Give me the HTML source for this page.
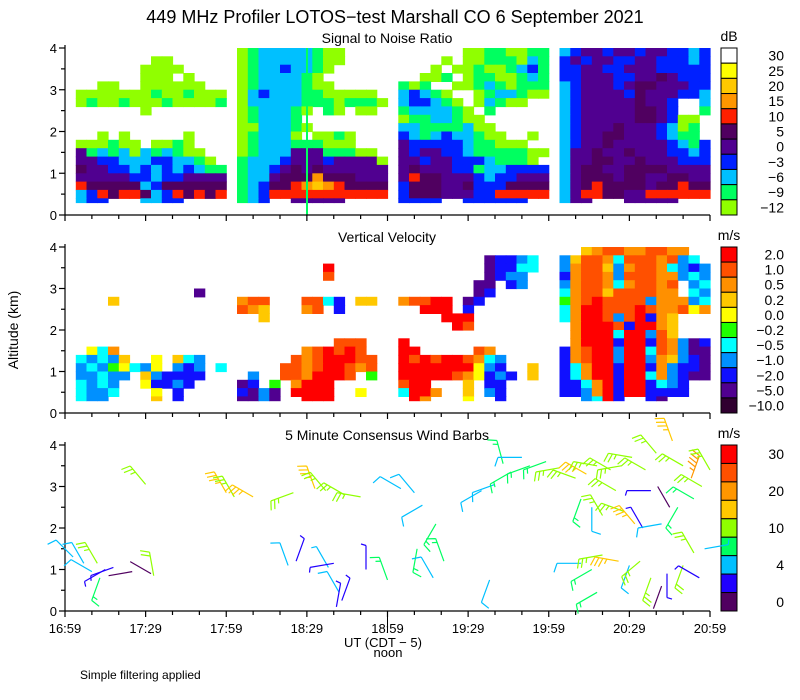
<!DOCTYPE html>
<html><head><meta charset="utf-8"><style>
body{margin:0;background:#fff;}
svg{display:block;font-family:"Liberation Sans",sans-serif;}
</style></head><body>
<svg id="chart" width="800" height="700" viewBox="0 0 800 700">
<text x="395" y="23" font-size="18" text-anchor="middle">449 MHz Profiler LOTOS−test Marshall CO  6 September 2021</text>
<text x="387" y="43" font-size="14" text-anchor="middle">Signal to Noise Ratio</text>
<text x="387" y="242" font-size="14" text-anchor="middle">Vertical Velocity</text>
<text x="387" y="440" font-size="14" text-anchor="middle">5 Minute Consensus Wind Barbs</text>
<text x="0" y="0" font-size="14" text-anchor="middle" transform="translate(18,330) rotate(-90)">Altitude (km)</text>
<text x="383" y="647" font-size="13" text-anchor="middle">UT  (CDT − 5)</text>
<text x="388" y="657" font-size="13" text-anchor="middle">noon</text>
<text x="80" y="679" font-size="12">Simple filtering applied</text>
<g id="layers"></g>
</svg>
<script>
// ---- data ----
const snrSeg1 = ["..............",".......aa.....","......aaaa....","......aaa.a...","..aa..aaaaaa..","aaaaaaabaabaaa","abaabaaabaaaab","......a.......","..............","..............","..a.a.....a...","aaabaa.aaba...","ebcbcacbcbaa..","eeddcccddccba.","feeddcdcdcdcbb","eeeeeddcddeeee","gfffffcdffffff","cdgfggfcdgfgfg","cdd...ccdd....",".............."];
const snrSeg2 = ["abcccccbaa....","abcccccbaa....","abccdccba.....","abccccba......","abccccbaa.....","acdcccbbaaaaa.","acccccbbbabbba","abcccba.ba.aa.","abcccb........","aacccba.......","abccca.aaba...","abcccbbbaaa...","abccceeebbbaa.","bcccdeeedeeeea","bccdefefeeeeee","bccefffhfffeee","bcdffghihgffff","bcdggggggggggg","bcd..eeeee....",".............."];
const snrSeg3 = ["......aabbaabb","....a.aabbbacb","...a.aabaabcdb","..aab.abbaabcb","bab..aabcbabbb","cdcba..abccbaa","cddcba.acbaa..","bccccba.b.....","abbccbaa......","ccbbbbcaa.....","dcbcdccbaa..a.","edddddcbbaaa..","edeeddcbbbbbaa","eedeedddcbbba.","efeeeddbccdddd","egffeeedcddeee","dfffeefdddffff","dfffeeeddggggg","dddd..dddddd..",".............."];
const snrSeg4 = ["cdeedeedeeddcd","dedeeddeedddcd","ddeeddeeeddddd","ddeeeddeefeddd","cdeeedeffeeedd","cdeeeedfeeeddc","cdeeeeefeed..c","cdeeeeeffed..b","cdeeeeeffedaa.","cdeeefeeedcab.","cdeeffeeedcbb.","cdeefeeeeedcbd","ceefeefeeeddcd","ceeffeefeeeddd","ceffeeffffeeee","cefffeffeeffee","cefgffffeffgff","ceggffeegggggg","cee...eeeee...",".............."];
const vvSeg1 = ["..............","..............","..............","..............","..............","...........J..","...D..........","..............","..............","..............","..............","..............",".EGC..........","GHGHD..E.DGH..","HGHFEGHE.HIH.G","HHGHH.DHIIII..","GHGH..EIIHI...","GHHG...E.I....","GHH....D.I....",".............."];
const vvSeg2 = ["..............","..............","........A.....","........B.....","..............","..............","CBB...BBGI.DD.","BCD...CB.I....","..D...........","..............","..............",".........BBB..","......CBABAB..",".....BCBAAABB.","....BBCBAABCB.",".H..BBCAAAB.F.","JI.F.CAAA.....","IJHJ.AAAA..E..","JJHJ..AAA.....",".............."];
const vvSeg3 = ["..............","........JIIHG.","........JIIGG.","........JIHH..",".......JJ.IH..",".......JI.....","CBBAA.JI......","..AAA.I.......","....AAA.......",".....AB.......","..............","A.............","AA.....BC.....","ABABAABCGH....","AAAAAAAEHI..D.","AAAAABCEIHI.D.","BAA...D.II....","GAAC..D.HI....",".AC...E..I....",".............."];
const vvSeg4 = ["..DCBBCCBBCC..","HDBBCGBBBCBHG.","HCBBDHCBBCGHIH","ICBBCHBBBCCHGH","HCBBCGCBBCB.HG","GCBBDBBBBCC.GH","FCBABBBBHCCCHG","GCAABBBABCCBEC","GCAABHBAICD...",".CAAABIAACD...",".CAAAGAAHBD...",".CAAAIAAIBCHJI","ICBAAHAAGBCHJJ","ICBAAHAAHCDHIJ","IGCAAIAAICHIIJ","IGCAAIAAGCHIJJ","IIGCAIAAIGHI..","IIHCAIAAIIII..","..HGAI..IJ....",".............."];
const snrLabels = ["30","25","20","15","10","5","0","−3","−6","−9","−12"];
const vvLabels = ["2.0","1.0","0.5","0.2","0.0","−0.2","−0.5","−1.0","−2.0","−5.0","−10.0"];
const windLabels = ["30","","20","","10","","4","","0"];
const timeLabels = ["16:59","17:29","17:59","18:29","18:59","19:29","19:59","20:29","20:59"];
const altTicks = [0,1,2,3,4];
// wind barbs: minutes after 16:59
const barbTime = [3,7,10,13,15,18,12,25,33,32,30,60,63,70,85,93,97,104,110,83,86,98,100,102,103,101,112,120,125,130,133,138,131,137,141,158,155,160,163,166,170,173,179,184,190,194,198,203,207,211,216,220,226,230,233,237,240,192,196,200,205,208,212,215,218,222,225,228,234,192,196,200,206,210,214,218,222,224,230,234,238,236,198];
const barbAlt = [1.3,1.15,0.95,0.8,1.0,1.05,1.15,0.95,0.85,0.9,3.05,2.85,2.75,2.75,2.85,2.95,2.9,2.8,2.75,1.1,1.2,1.05,1.15,0.45,0.25,0.1,1.0,0.75,2.95,2.85,2.55,2.1,1.5,0.8,1.2,0.75,2.9,3.05,3.55,3.35,3.7,3.5,3.6,3.45,3.2,3.3,3.5,3.4,3.5,3.7,3.4,3.8,4.1,3.5,3.2,3.0,3.4,2.7,2.5,2.3,2.9,2.4,2.1,2.0,2.9,2.1,2.5,2.5,2.7,1.15,1.0,1.35,1.2,1.1,1.2,0.8,0.6,0.9,1.1,1.4,1.5,0.8,0.45];
const barbSpeed = [6,6,6,7,3,3,12,1,10,1,12,17,12,17,12,17,12,12,12,6,3,4,3,6,3,3,3,9,5,5,5,9,9,5,9,5,5,5,9,9,5,9,9,12,12,17,12,12,12,12,12,12,17,12,22,12,12,9,5,12,12,12,17,3,3,5,1,9,9,5,9,12,17,5,12,12,1,3,10,12,4,3,9];
const barbDir = [315,330,300,200,240,250,330,260,350,300,320,330,330,300,250,340,320,300,280,340,20,330,260,330,20,10,0,340,300,320,240,210,190,330,340,200,240,250,345,240,270,250,250,260,290,300,280,300,260,280,300,320,340,300,20,300,330,200,180,330,300,290,320,330,270,260,330,210,300,270,240,260,280,200,230,200,200,180,200,330,80,300,240];

// ---- rendering ----
const NS = "http://www.w3.org/2000/svg";
const layers = document.getElementById('layers');
const X0 = 65, X1 = 710, NCOL = 60, SPAN = 240;
const panels = [{top:48,bot:215},{top:247,bot:413},{top:445,bot:611}];
const snrColors = {i:"#ffc800",h:"#ff9600",g:"#ff2000",f:"#500060",e:"#500090",d:"#0020ff",c:"#00c0ff",b:"#00ff60",a:"#90ff00"};
const snrBar = ["#ffffff","#ffff00","#ffc800","#ff9600","#ff2000","#500060","#500090","#0020ff","#00c0ff","#00ff60","#90ff00"];
const vvColors = {A:"#ff0000",B:"#ff5000",C:"#ff9000",D:"#ffc800",E:"#ffff00",F:"#20ff00",G:"#00ffff",H:"#0090ff",I:"#1010ff",J:"#500090",K:"#300030"};
const vvBar = ["#ff0000","#ff5000","#ff9000","#ffc800","#ffff00","#20ff00","#00ffff","#0090ff","#1010ff","#500090","#300030"];
const windBar = ["#ff0000","#ff5000","#ff9600","#ffc800","#90ff00","#00ff60","#00c0ff","#2000ff","#500060"];
function xs(t){return X0 + (X1-X0)*t/SPAN;}
function ys(p,a){return p.bot - (p.bot-p.top)*a/4;}
function mk(tag, attrs, parent){const e=document.createElementNS(NS,tag);for(const k in attrs)e.setAttribute(k,attrs[k]);(parent||layers).appendChild(e);return e;}

function heat(p, segs, colors, name){
  const g = mk('g',{});
  
  
  const W = (X1-X0)/NCOL;
  for(let ri=0; ri<20; ri++){
    const r = 19-ri;
    const row = "." + segs[0][ri] + "." + segs[1][ri] + "." + segs[2][ri] + "." + segs[3][ri];
    const aLo = r===1 ? 0.3 : 0.2*r, aHi = 0.2*r+0.2;
    for(let c=0;c<row.length;c++){
      const col = colors[row[c]];
      if(!col) continue;
      const x = X0 + c*W, y = ys(p,aHi);
      const cell = mk('rect',{x:x.toFixed(1),y:y.toFixed(1),width:(W+0.6).toFixed(1),height:(ys(p,aLo)-y+0.6).toFixed(1),fill:col},g);
      
      
    }
  }
}
heat(panels[0],[snrSeg1,snrSeg2,snrSeg3,snrSeg4],snrColors,'snr-heatmap');
const gl = mk('rect',{x:306,y:48,width:2,height:167,fill:"#00ff60"});


heat(panels[1],[vvSeg1,vvSeg2,vvSeg3,vvSeg4],vvColors,'vv-heatmap');

// axes
panels.forEach((p,pi)=>{
  const ax = mk('g',{stroke:"#000","stroke-width":1.2,fill:"none"});
  
  
  mk('line',{x1:X0,y1:p.top-3,x2:X0,y2:p.bot},ax);
  mk('line',{x1:X0,y1:p.bot,x2:X1,y2:p.bot},ax);
  for(let t=0;t<=SPAN;t+=10){const len = t%30===0?6:4;mk('line',{x1:xs(t),y1:p.bot,x2:xs(t),y2:p.bot+len},ax);}
  for(let a=0;a<=4;a+=0.5){mk('line',{x1:X0-(a%1===0?6:4),y1:ys(p,a),x2:X0,y2:ys(p,a)},ax);}
  altTicks.forEach(a=>{
    const tl = mk('text',{x:X0-8,y:ys(p,a)+5,"font-size":13,"text-anchor":"end",fill:"#000",stroke:"none"},ax);
    tl.textContent = a;
    
    
  });
});
timeLabels.forEach((s,i)=>{
  const tl = mk('text',{x:xs(i*30),y:633,"font-size":13,"text-anchor":"middle"});
  tl.textContent = s;
  
  
});
mk('line',{x1:xs(120),y1:611,x2:xs(120),y2:632,stroke:"#000","stroke-width":1});

// colorbars
function cbar(p, colors, labels, unit, name){
  const g = mk('g',{});
  
  
  const h = (p.bot-p.top)/colors.length;
  colors.forEach((c,i)=>{
    const b = mk('rect',{x:721,y:p.top+i*h,width:16,height:h,fill:c,stroke:"#000","stroke-width":1},g);
    
    
    if(labels[i]){
      const t = mk('text',{x:784,y:p.top+i*h+h/2+5,"font-size":14,"text-anchor":"end"},g);
      t.textContent = labels[i];
      
      
    }
  });
  const u = mk('text',{x:729,y:p.top-7,"font-size":14,"text-anchor":"middle"},g);
  u.textContent = unit;
  
  
}
cbar(panels[0],snrBar,snrLabels,"dB",'snr-colorbar');
cbar(panels[1],vvBar,vvLabels,"m/s",'vv-colorbar');
cbar(panels[2],windBar,windLabels,"m/s",'wind-colorbar');

// wind barbs
function windColor(s){
  if(s<2) return windBar[8]; if(s<4) return windBar[7]; if(s<7) return windBar[6];
  if(s<10) return windBar[5]; if(s<15) return windBar[4]; if(s<20) return windBar[3];
  if(s<25) return windBar[2]; if(s<30) return windBar[1]; return windBar[0];
}
const wg = mk('g',{"stroke-width":1.2,fill:"none"});


for(let i=0;i<barbTime.length;i++){
  const p = panels[2];
  const bx = xs(barbTime[i]), by = ys(p,barbAlt[i]);
  const d = barbDir[i]*Math.PI/180, L = 24;
  const ux = Math.sin(d), uy = -Math.cos(d);
  const ex = bx+ux*L, ey = by+uy*L;
  const px = uy, py = -ux; // perpendicular
  let path = `M${bx.toFixed(1)},${by.toFixed(1)}L${ex.toFixed(1)},${ey.toFixed(1)}`;
  let s = barbSpeed[i], k = 0;
  while(s >= 4.5){const sx=ex-ux*k*4, sy=ey-uy*k*4;path += `M${sx.toFixed(1)},${sy.toFixed(1)}l${(px*9+ux*3).toFixed(1)},${(py*9+uy*3).toFixed(1)}`;s-=5;k++;}
  if(s >= 2){const sx=ex-ux*k*4, sy=ey-uy*k*4;path += `M${sx.toFixed(1)},${sy.toFixed(1)}l${(px*5+ux*1.5).toFixed(1)},${(py*5+uy*1.5).toFixed(1)}`;}
  const b = mk('path',{d:path,stroke:windColor(barbSpeed[i])},wg);
  
  
}
</script>
</body></html>
